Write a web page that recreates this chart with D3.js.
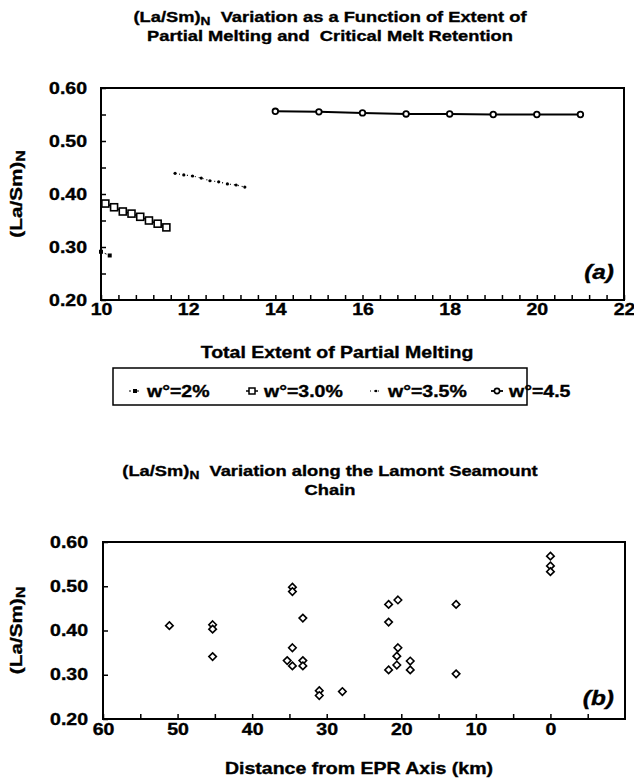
<!DOCTYPE html>
<html>
<head>
<meta charset="utf-8">
<script src="https://cdn.jsdelivr.net/npm/d3@7"></script>
<style>
  body { margin: 0; background: #fff; }
  text { font-family: "Liberation Sans", Arial, Helvetica, sans-serif; font-weight: bold; fill: #000;
         stroke: #000; stroke-width: 0.35px; }
</style>
</head>
<body>
<div id="chart"></div>
<script>
// Data ----------------------------------------------------------------------------------------------------------------
const meltTicks = [10, 12, 14, 16, 18, 20, 22];
const ratioTicks = [0.20, 0.30, 0.40, 0.50, 0.60];

const melt2X = [10.0, 10.2];
const melt2Y = [0.291, 0.284];
const melt30X = [10.1, 10.3, 10.5, 10.7, 10.9, 11.1, 11.3, 11.5];
const melt30Y = [0.382, 0.375, 0.367, 0.363, 0.357, 0.350, 0.344, 0.337];
const melt35X = [11.7, 11.9, 12.1, 12.3, 12.5, 12.7, 12.9, 13.1, 13.3];
const melt35Y = [0.439, 0.436, 0.434, 0.430, 0.425, 0.423, 0.419, 0.417, 0.413];
const melt45X = [14, 15, 16, 17, 18, 19, 20, 21];
const melt45Y = [0.556, 0.555, 0.553, 0.551, 0.551, 0.550, 0.550, 0.550];
const legendLabels = ["w°=2%", "w°=3.0%", "w°=3.5%", "w°=4.5"];

const distTicks = [60, 50, 40, 30, 20, 10, 0];
const seamountDist = [51.1, 45.3, 45.3, 45.3, 34.6, 34.6, 33.2, 34.6, 35.3, 34.6, 33.2, 33.2, 31.0, 31.0, 27.9,
  21.7, 20.45, 21.7, 20.45, 20.6, 20.6, 21.7, 18.8, 18.8, 12.65, 12.65, 0.0, 0.0, 0.0];
const seamountRatio = [0.411, 0.413, 0.403, 0.341, 0.498, 0.488, 0.428, 0.361, 0.332, 0.320, 0.332, 0.320, 0.264,
  0.253, 0.262, 0.459, 0.469, 0.419, 0.361, 0.342, 0.322, 0.311, 0.331, 0.311, 0.459, 0.302, 0.568, 0.546, 0.533];

// Canvas --------------------------------------------------------------------------------------------------------------
const canvasWidth = 634;
const canvasHeight = 781;
const sx = 1.22; // the lettering in the figure is wider than Arial

const svg = d3.select("#chart")
  .append("svg")
  .attr("width", canvasWidth)
  .attr("height", canvasHeight);

// text helper: places stretched text, with an optional subscript "N"
function label(x, y, str, size, anchor, sub, rest, rotate) {
  const t = svg.append("text")
    .attr("transform", "translate(" + x + "," + y + ")" + (rotate ? " rotate(-90)" : "") + " scale(" + sx + ",1)")
    .attr("text-anchor", anchor || "middle")
    .style("font-size", size + "px")
    .style("white-space", "pre");
  t.append("tspan").text(str);
  if (sub) {
    t.append("tspan").attr("dy", size * 0.2).style("font-size", (size * 0.75) + "px").text(sub);
    if (rest) t.append("tspan").attr("dy", -size * 0.2).text(rest);
  }
  return t;
}

function styleAxis(g, fontSize, shiftX) {
  g.select(".domain").remove();
  g.selectAll("line").attr("stroke", "#000").attr("stroke-width", 1.5);
  g.selectAll("text")
    .style("font-size", fontSize + "px")
    .attr("fill", "#000")
    .attr("transform", "scale(" + sx + ",1)");
  if (shiftX) g.selectAll("text").attr("x", shiftX / sx);
}

// Panel (a) -----------------------------------------------------------------------------------------------------------
const xA = d3.scaleLinear().domain([10, 22]).range([101, 624]);
const yA = d3.scaleLinear().domain([0.2, 0.6]).range([300, 88]);

label(330, 22, "(La/Sm)", 15, "middle", "N", "  Variation as a Function of Extent of");
label(330, 41, "Partial Melting and  Critical Melt Retention", 15, "middle");

// minor ticks, pointing inward
svg.append("g")
  .attr("transform", "translate(0," + yA(0.2) + ")")
  .call(d3.axisBottom(xA).tickValues(d3.range(10, 22.01, 0.4)).tickSize(-5).tickFormat(""))
  .call(g => styleAxis(g, 16));
svg.append("g")
  .attr("transform", "translate(" + xA(10) + ",0)")
  .call(d3.axisLeft(yA).tickValues(d3.range(0.2, 0.601, 0.05)).tickSize(-5).tickFormat(""))
  .call(g => styleAxis(g, 16));

// tick labels
svg.append("g")
  .attr("transform", "translate(0," + yA(0.2) + ")")
  .call(d3.axisBottom(xA).tickValues(meltTicks).tickSize(0).tickPadding(4).tickFormat(d3.format("d")))
  .call(g => styleAxis(g, 16));
svg.append("g")
  .attr("transform", "translate(" + xA(10) + ",0)")
  .call(d3.axisLeft(yA).tickValues(ratioTicks).tickSize(0).tickFormat(d3.format(".2f")))
  .call(g => styleAxis(g, 16, -14));

svg.append("rect")
  .attr("x", xA(10)).attr("y", yA(0.6))
  .attr("width", xA(22) - xA(10)).attr("height", yA(0.2) - yA(0.6))
  .attr("fill", "none").attr("stroke", "#000").attr("stroke-width", 2);

label(337, 358, "Total Extent of Partial Melting", 16, "middle");
label(22, yA(0.4), "(La/Sm)", 17, "middle", "N", null, true);
label(614, 279, "(a)", 20, "end").style("font-style", "italic");

const lineA = d3.line().x(d => xA(d[0])).y(d => yA(d[1]));
const zipA = (xs, ys) => xs.map((v, i) => [v, ys[i]]);
const s2 = zipA(melt2X, melt2Y);
const s30 = zipA(melt30X, melt30Y);
const s35 = zipA(melt35X, melt35Y);
const s45 = zipA(melt45X, melt45Y);

const plotA = svg.append("g");

// w = 2%
plotA.append("path").datum(s2).attr("d", lineA)
  .attr("fill", "none").attr("stroke", "#000").attr("stroke-width", 1).attr("stroke-dasharray", "2,2");
plotA.selectAll(".m2").data(s2).join("rect").attr("class", "m2")
  .attr("x", d => xA(d[0]) - 2).attr("y", d => yA(d[1]) - 2)
  .attr("width", 4).attr("height", 4).attr("fill", "#000");

// w = 3.0%
plotA.append("path").datum(s30).attr("d", lineA)
  .attr("fill", "none").attr("stroke", "#000").attr("stroke-width", 1.5);
plotA.selectAll(".m30").data(s30).join("rect").attr("class", "m30")
  .attr("x", d => xA(d[0]) - 3.5).attr("y", d => yA(d[1]) - 3.5)
  .attr("width", 7).attr("height", 7).attr("fill", "#fff").attr("stroke", "#000").attr("stroke-width", 1.6);

// w = 3.5%
plotA.append("path").datum(s35).attr("d", lineA)
  .attr("fill", "none").attr("stroke", "#000").attr("stroke-width", 1.2).attr("stroke-dasharray", "1,3");
plotA.selectAll(".m35").data(s35).join("circle").attr("class", "m35")
  .attr("cx", d => xA(d[0])).attr("cy", d => yA(d[1])).attr("r", 1.6).attr("fill", "#000");

// w = 4.5
plotA.append("path").datum(s45).attr("d", lineA)
  .attr("fill", "none").attr("stroke", "#000").attr("stroke-width", 2);
plotA.selectAll(".m45").data(s45).join("circle").attr("class", "m45")
  .attr("cx", d => xA(d[0])).attr("cy", d => yA(d[1])).attr("r", 2.8)
  .attr("fill", "#fff").attr("stroke", "#000").attr("stroke-width", 1.8);

// Legend --------------------------------------------------------------------------------------------------------------
svg.append("rect")
  .attr("x", 113).attr("y", 368).attr("width", 414).attr("height", 37)
  .attr("fill", "#fff").attr("stroke", "#000").attr("stroke-width", 1.5);

const legendSymX = [135, 252, 376, 497];
const legendY = 391;
legendLabels.forEach((name, i) => {
  const cx = legendSymX[i];
  const g = svg.append("g");
  const ln = g.append("line").attr("x1", cx - 6).attr("x2", cx + 6).attr("y1", legendY).attr("y2", legendY)
    .attr("stroke", "#000");
  if (i == 0) {
    ln.attr("stroke-dasharray", "2,2").attr("stroke-width", 1);
    g.append("rect").attr("x", cx - 2).attr("y", legendY - 2).attr("width", 4).attr("height", 4);
  } else if (i == 1) {
    ln.attr("stroke-width", 1.5);
    g.append("rect").attr("x", cx - 3).attr("y", legendY - 3).attr("width", 6).attr("height", 6)
      .attr("fill", "#fff").attr("stroke", "#000").attr("stroke-width", 1.5);
  } else if (i == 2) {
    ln.attr("stroke-dasharray", "1,3").attr("stroke-width", 1.2);
    g.append("circle").attr("cx", cx).attr("cy", legendY).attr("r", 1.3);
  } else {
    ln.attr("stroke-width", 1.8);
    g.append("circle").attr("cx", cx).attr("cy", legendY).attr("r", 2.6)
      .attr("fill", "#fff").attr("stroke", "#000").attr("stroke-width", 1.6);
  }
  label(cx + 12, legendY + 6, name, 16, "start");
});

// Panel (b) -----------------------------------------------------------------------------------------------------------
const xB = d3.scaleLinear().domain([60, -10]).range([103, 625]);
const yB = d3.scaleLinear().domain([0.2, 0.6]).range([719, 542]);

label(330, 476, "(La/Sm)", 15, "middle", "N", "  Variation along the Lamont Seamount");
label(330, 495, "Chain", 15, "middle");

svg.append("g")
  .attr("transform", "translate(0," + yB(0.2) + ")")
  .call(d3.axisBottom(xB).tickValues(d3.range(60, -6, -5)).tickSize(-5).tickFormat(""))
  .call(g => styleAxis(g, 16));
svg.append("g")
  .attr("transform", "translate(0," + yB(0.2) + ")")
  .call(d3.axisBottom(xB).tickValues(distTicks).tickSize(0).tickPadding(5).tickFormat(d3.format("d")))
  .call(g => styleAxis(g, 16));
svg.append("g")
  .attr("transform", "translate(" + xB(60) + ",0)")
  .call(d3.axisLeft(yB).tickValues(ratioTicks).tickSize(-5).tickFormat(d3.format(".2f")))
  .call(g => styleAxis(g, 16, -15));

svg.append("rect")
  .attr("x", xB(60)).attr("y", yB(0.6))
  .attr("width", xB(-10) - xB(60)).attr("height", yB(0.2) - yB(0.6))
  .attr("fill", "none").attr("stroke", "#000").attr("stroke-width", 2);

label(359, 774, "Distance from EPR Axis (km)", 16, "middle");
label(22, yB(0.4), "(La/Sm)", 17, "middle", "N", null, true);
label(614, 705, "(b)", 20, "end").style("font-style", "italic");

const diamond = d3.symbol().type(d3.symbolDiamond2).size(36);
svg.append("g").selectAll("path")
  .data(seamountDist.map((d, i) => [d, seamountRatio[i]]))
  .join("path")
  .attr("d", diamond)
  .attr("transform", d => "translate(" + xB(d[0]) + "," + yB(d[1]) + ")")
  .attr("fill", "#fff")
  .attr("stroke", "#000")
  .attr("stroke-width", 1.6);
</script>
</body>
</html>
